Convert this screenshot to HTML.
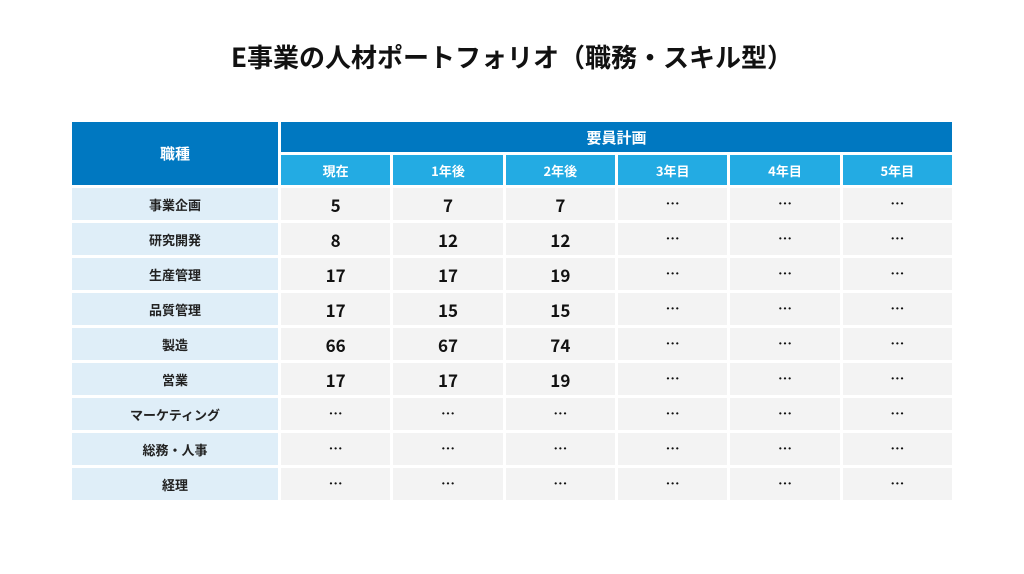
<!DOCTYPE html>
<html><head><meta charset="utf-8"><style>
body{margin:0;width:1024px;height:574px;background:#fff;font-family:"Liberation Sans","Noto Sans CJK JP",sans-serif;position:relative;overflow:hidden}
h1{position:absolute;top:38px;left:0;width:1024px;margin:0;text-align:center;font-size:26px;font-weight:bold;color:#111;font-family:"Noto Sans CJK JP","Liberation Sans",sans-serif;line-height:38px}
.grid{position:absolute;left:72px;top:122px;width:880px;display:grid;grid-template-columns:206px repeat(6,1fr);grid-template-rows:30px 30px repeat(9,32px);gap:3px}
.grid div{display:flex;align-items:center;justify-content:center;font-family:"Noto Sans CJK JP",sans-serif}
.hd{background:#0078c1;color:#fff;font-weight:bold;font-size:15px}
.sub{background:#23abe3;color:#fff;font-weight:bold;font-size:13px}
.rl{background:#dfeef8;color:#222;font-weight:bold;font-size:13px}
.v{background:#f3f3f3;color:#111;font-weight:bold;font-size:17px}
</style></head><body>
<h1>E事業の人材ポートフォリオ（職務・スキル型）</h1>
<div class="grid" id="g">
<div class="hd" style="grid-row:1/3;grid-column:1">職種</div>
<div class="hd" style="grid-row:1;grid-column:2/8">要員計画</div>
</div>
<script>
const periods=["現在","1年後","2年後","3年目","4年目","5年目"];
const jobs=["事業企画","研究開発","生産管理","品質管理","製造","営業","マーケティング","総務・人事","経理"];
const now=[5,8,17,17,66,17,null,null,null];
const year1=[7,12,17,15,67,17,null,null,null];
const year2=[7,12,19,15,74,19,null,null,null];
const g=document.getElementById('g');
periods.forEach((p,i)=>{const d=document.createElement('div');d.className='sub';d.textContent=p;


d.style.gridRow=2;d.style.gridColumn=i+2;g.appendChild(d);});
jobs.forEach((j,r)=>{
const l=document.createElement('div');l.className='rl';l.textContent=j;


l.style.gridRow=r+3;l.style.gridColumn=1;g.appendChild(l);
const vals=[now[r],year1[r],year2[r],null,null,null];
vals.forEach((v,c)=>{const d=document.createElement('div');d.className='v';
d.textContent=v==null?'…':v;if(v==null)d.style.fontSize='14px';


d.style.gridRow=r+3;d.style.gridColumn=c+2;g.appendChild(d);});
});
</script>
</body></html>
